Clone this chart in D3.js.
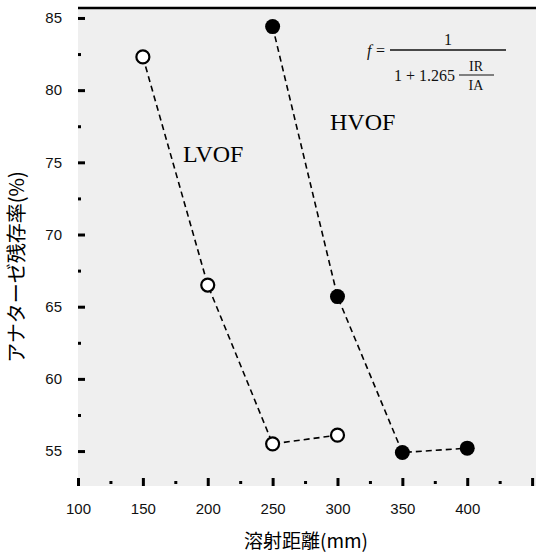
<!DOCTYPE html>
<html>
<head>
<meta charset="utf-8">
<script src="https://cdn.jsdelivr.net/npm/d3@7.9.0/dist/d3.min.js"></script>
<style>
  body { margin: 0; background: #fff; }
  svg { display: block; }
  .tick text { font-family: "Liberation Sans", Arial, sans-serif; font-size: 15px; fill: #111; }
</style>
</head>
<body>
<svg width="536" height="556"></svg>
<script>
// spray distance (mm) vs anatase retention (%)
const lvofX = [150, 200, 250, 300];
const lvofY = [82.3, 66.5, 55.5, 56.1];
const hvofX = [250, 300, 350, 400];
const hvofY = [84.4, 65.7, 54.9, 55.2];
const xTicks = [100, 150, 200, 250, 300, 350, 400, 450];
const xLabels = ['100', '150', '200', '250', '300', '350', '400'];
const yTicks = [55, 60, 65, 70, 75, 80, 85];

const svg = d3.select('svg');
const plotL = 78, plotR = 536, plotT = 8, plotB = 486;

let x = d3.scaleLinear().domain([100, 453]).range([plotL, plotR]);
let y = d3.scaleLinear().domain([52.58, 85.69]).range([plotB, plotT]);

svg.append('rect')
  .attr('x', plotL).attr('y', plotT)
  .attr('width', plotR - plotL).attr('height', plotB - plotT)
  .attr('fill', '#efefef');

// top frame line
svg.append('line')
  .attr('x1', plotL).attr('x2', plotR)
  .attr('y1', plotT).attr('y2', plotT)
  .attr('stroke', '#000').attr('stroke-width', 2.5);

// y axis: major + minor ticks pointing inwards
let yMajor = svg.append('g').attr('transform', `translate(${plotL},0)`)
  .call(d3.axisLeft(y).tickValues(yTicks).tickSize(-7).tickPadding(16));
let yMinor = svg.append('g').attr('transform', `translate(${plotL},0)`)
  .call(d3.axisLeft(y).tickValues(yTicks.map(v => v + 2.5).filter(v => v < 85.6)).tickSize(-3).tickFormat(''));

let xMajor = svg.append('g').attr('transform', `translate(0,${plotB})`)
  .call(d3.axisBottom(x).tickValues(xTicks).tickSize(-8).tickPadding(17)
    .tickFormat(d => xLabels.includes(String(d)) ? String(d) : ''));
let xMinor = svg.append('g').attr('transform', `translate(0,${plotB - 2})`)
  .call(d3.axisBottom(x).tickValues(xTicks.map(v => v + 25)).tickSize(-3).tickFormat(''));

[yMajor, yMinor, xMajor, xMinor].forEach(g => {
  g.select('.domain').remove();
  g.selectAll('.tick line').attr('stroke', '#000').attr('stroke-width', 3);
});

// series
let line = d3.line().x(d => x(d[0])).y(d => y(d[1]));
let lvof = lvofX.map((v, i) => [v, lvofY[i]]);
let hvof = hvofX.map((v, i) => [v, hvofY[i]]);

[lvof, hvof].forEach(data => {
  svg.append('path').attr('d', line(data))
    .attr('fill', 'none').attr('stroke', '#000')
    .attr('stroke-width', 1.6).attr('stroke-dasharray', '6,4');
});

svg.selectAll('circle.lvof').data(lvof).join('circle')
  .attr('class', 'lvof')
  .attr('cx', d => x(d[0])).attr('cy', d => y(d[1])).attr('r', 6.5)
  .attr('fill', '#fff').attr('stroke', '#000').attr('stroke-width', 2.2);

svg.selectAll('circle.hvof').data(hvof).join('circle')
  .attr('class', 'hvof')
  .attr('cx', d => x(d[0])).attr('cy', d => y(d[1])).attr('r', 7.5)
  .attr('fill', '#000');

// series labels
const serif = '"Liberation Serif", "Times New Roman", serif';
svg.append('text').attr('x', 183).attr('y', 162)
  .attr('font-family', serif).attr('font-size', 24).text('LVOF');
svg.append('text').attr('x', 330).attr('y', 130)
  .attr('font-family', serif).attr('font-size', 24).text('HVOF');

// formula
let f = svg.append('g').attr('font-family', serif).attr('font-size', 16).attr('fill', '#111');
f.append('text').attr('x', 367).attr('y', 56).attr('font-style', 'italic').text('f');
f.append('text').attr('x', 376).attr('y', 56).text('=');
f.append('line').attr('x1', 390).attr('x2', 506).attr('y1', 50).attr('y2', 50)
  .attr('stroke', '#111').attr('stroke-width', 1.3);
f.append('text').attr('x', 448).attr('y', 45).attr('text-anchor', 'middle').text('1');
f.append('text').attr('x', 455).attr('y', 81).attr('text-anchor', 'end').text('1 + 1.265');
f.append('line').attr('x1', 459).attr('x2', 494).attr('y1', 75).attr('y2', 75)
  .attr('stroke', '#111').attr('stroke-width', 1.2);
f.append('text').attr('x', 476).attr('y', 71).attr('text-anchor', 'middle').attr('font-size', 14).text('IR');
f.append('text').attr('x', 476).attr('y', 90).attr('text-anchor', 'middle').attr('font-size', 14).text('IA');

// axis titles
const jp = '"Noto Sans CJK JP", sans-serif';
svg.append('text')
  .attr('transform', 'translate(24,267) rotate(-90)')
  .attr('text-anchor', 'middle').attr('font-family', jp).attr('font-size', 20)
  .text('アナターゼ残存率(%)');
svg.append('text').attr('x', 306).attr('y', 548)
  .attr('text-anchor', 'middle').attr('font-family', jp).attr('font-size', 19)
  .text('溶射距離(mm)');
</script>
</body>
</html>
